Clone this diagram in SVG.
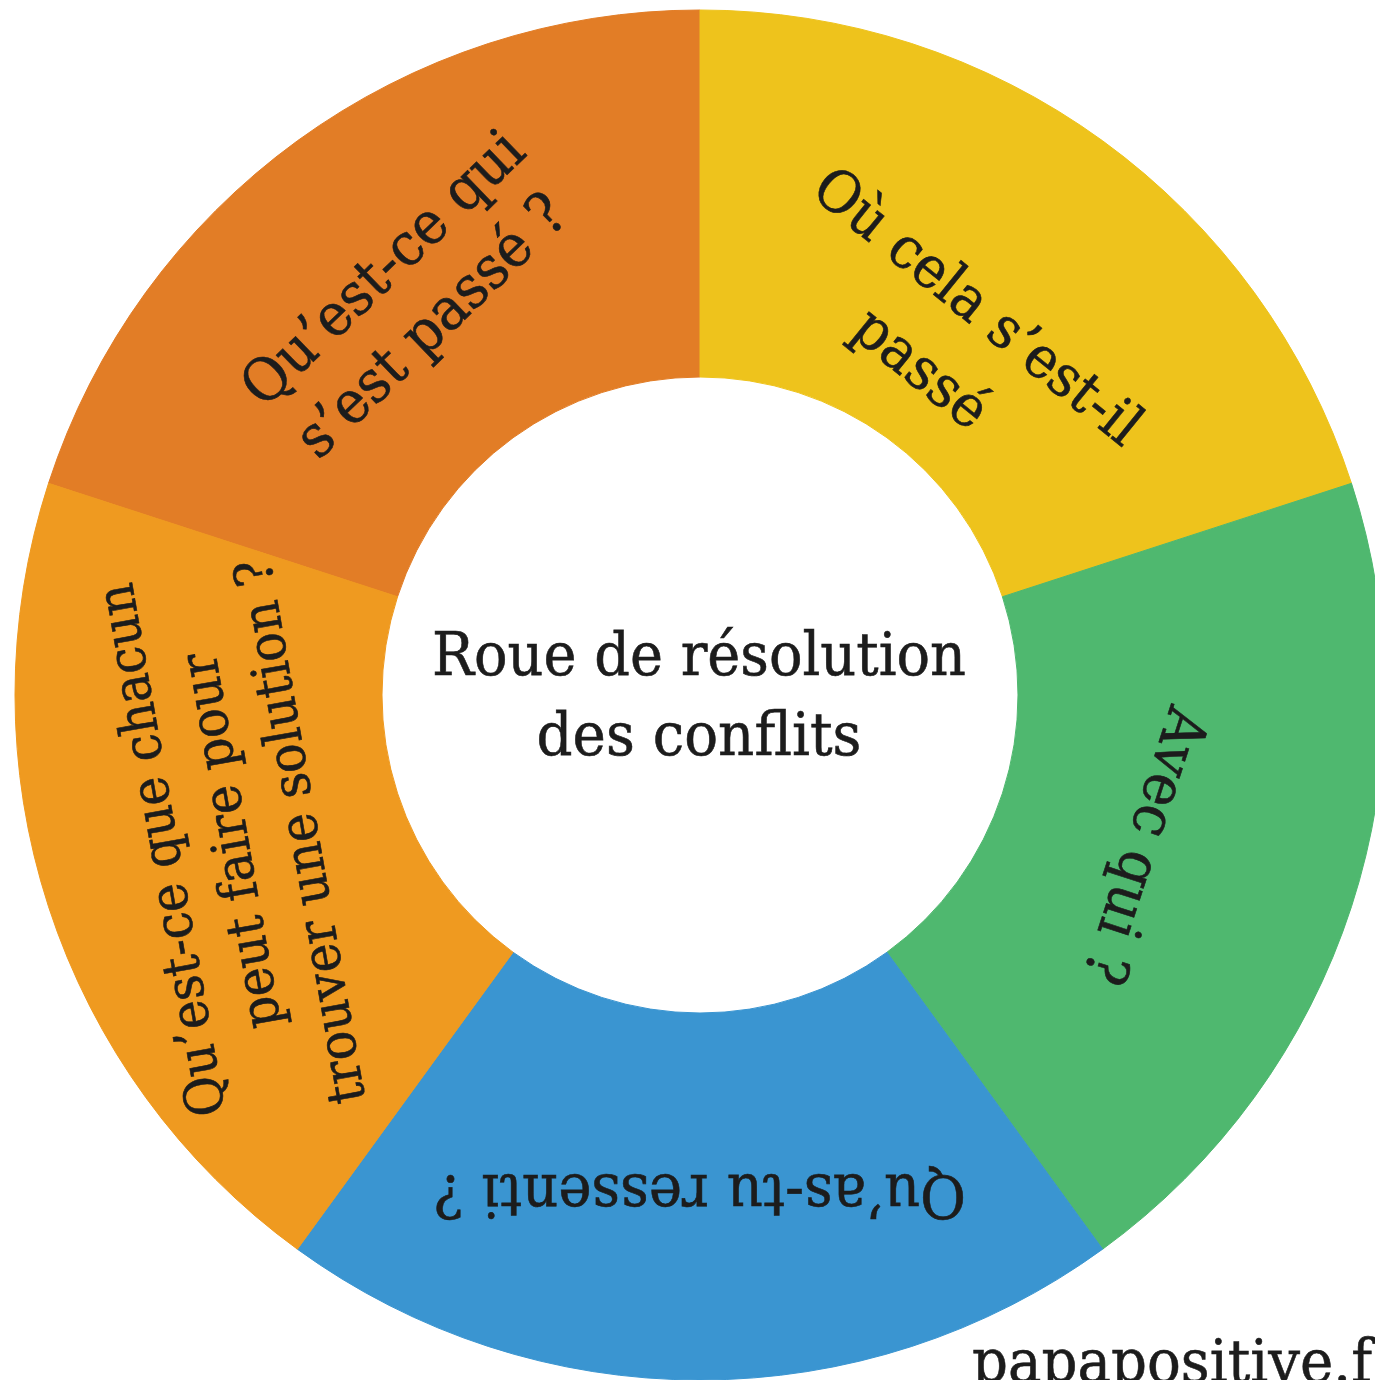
<svg xmlns="http://www.w3.org/2000/svg" width="1375" height="1380" viewBox="0 0 1375 1380">
  <style>
    .seg { stroke-width: 1; stroke-linejoin: round; }
    .lbl { font-family: "DejaVu Serif", "Liberation Serif", serif; fill: #1c1c1c; stroke: #1c1c1c; stroke-width: 0.6; text-anchor: middle; }
  </style>
  <rect width="1375" height="1380" fill="#ffffff"/>

  <!-- Wheel: centre (700,695), outer radius 685, inner radius 318, five 72° sectors -->
  <g id="segment-what">
    <path class="seg" fill="#E27D26" stroke="#E27D26" d="M 48.53 483.32 A 685 685 0 0 1 700 10 L 700 377 A 318 318 0 0 0 397.56 596.73 Z"/>
    <g transform="translate(396,282) rotate(-44)">
      <text class="lbl" font-size="59" x="0" y="0" textLength="367" lengthAdjust="spacingAndGlyphs">Qu’est-ce qui</text>
      <text class="lbl" font-size="59" x="-5" y="75" textLength="350" lengthAdjust="spacingAndGlyphs">s’est passé ?</text>
    </g>
  </g>

  <g id="segment-where">
    <path class="seg" fill="#EEC31C" stroke="#EEC31C" d="M 700 10 A 685 685 0 0 1 1351.47 483.32 L 1002.44 596.73 A 318 318 0 0 0 700 377 Z"/>
    <g transform="translate(966,321) rotate(39)">
      <text class="lbl" font-size="58" x="0" y="0" textLength="404" lengthAdjust="spacingAndGlyphs">Où cela s’est-il</text>
      <text class="lbl" font-size="58" x="-5" y="84" textLength="156" lengthAdjust="spacingAndGlyphs">passé</text>
    </g>
  </g>

  <g id="segment-who">
    <path class="seg" fill="#4FB86F" stroke="#4FB86F" d="M 1351.47 483.32 A 685 685 0 0 1 1102.63 1249.18 L 886.92 952.27 A 318 318 0 0 0 1002.44 596.73 Z"/>
    <g transform="translate(1127,840) rotate(108)">
      <text class="lbl" font-size="59" x="0" y="0" textLength="287" lengthAdjust="spacingAndGlyphs">Avec qui ?</text>
    </g>
  </g>

  <g id="segment-feel">
    <path class="seg" fill="#3A95D1" stroke="#3A95D1" d="M 1102.63 1249.18 A 685 685 0 0 1 297.37 1249.18 L 513.08 952.27 A 318 318 0 0 0 886.92 952.27 Z"/>
    <g transform="translate(700,1175) rotate(180)">
      <text class="lbl" font-size="60" x="0" y="0" textLength="532" lengthAdjust="spacingAndGlyphs">Qu’as-tu ressenti ?</text>
    </g>
  </g>

  <g id="segment-solution">
    <path class="seg" fill="#EF9A20" stroke="#EF9A20" d="M 297.37 1249.18 A 685 685 0 0 1 48.53 483.32 L 397.56 596.73 A 318 318 0 0 0 513.08 952.27 Z"/>
    <g transform="translate(248,838) rotate(-100)">
      <text class="lbl" font-size="53" x="3" y="-70" textLength="540" lengthAdjust="spacingAndGlyphs">Qu’est-ce que chacun</text>
      <text class="lbl" font-size="53" x="0" y="0" textLength="380" lengthAdjust="spacingAndGlyphs">peut faire pour</text>
      <text class="lbl" font-size="53" x="-3" y="70" textLength="552" lengthAdjust="spacingAndGlyphs">trouver une solution ?</text>
    </g>
  </g>

  <g id="hub">
    <text class="lbl" font-size="60" x="699" y="675" textLength="534" lengthAdjust="spacingAndGlyphs">Roue de résolution</text>
    <text class="lbl" font-size="60" x="699" y="755" textLength="325" lengthAdjust="spacingAndGlyphs">des conflits</text>
  </g>

  <text id="credit" font-family="DejaVu Serif, Liberation Serif, serif" fill="#1c1c1c" stroke="#1c1c1c" stroke-width="0.6" font-size="60" x="972" y="1382" textLength="400" lengthAdjust="spacingAndGlyphs">papapositive.f</text>
</svg>
